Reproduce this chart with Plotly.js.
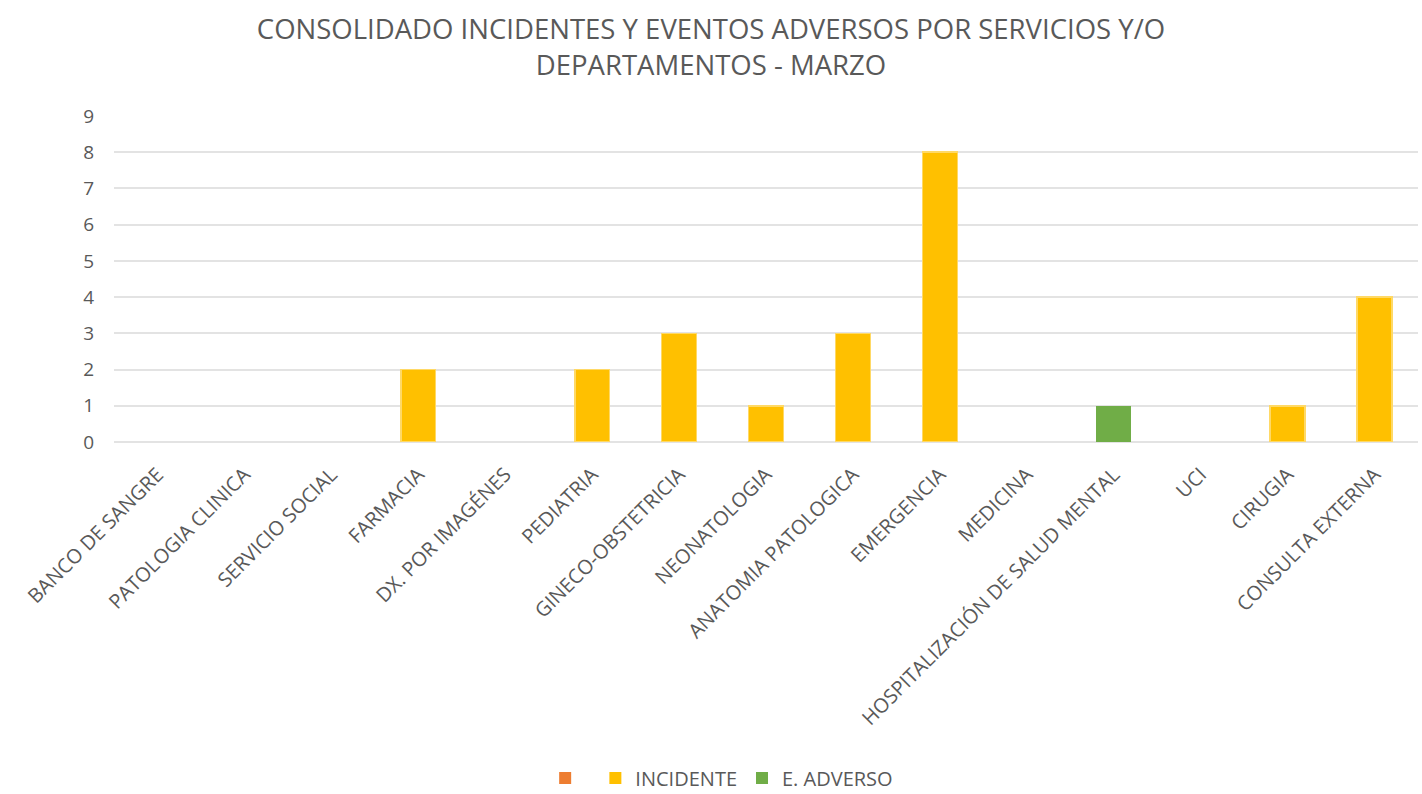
<!DOCTYPE html>
<html>
<head>
<meta charset="utf-8">
<script src="https://cdn.plot.ly/plotly-3.0.1.min.js"></script>
<style>
  body { margin: 0; background: #fff; }
  #grafico { width: 1422px; height: 794px; }
</style>
</head>
<body>
<div id="grafico"></div>
<script>
const servicios = [
  'BANCO DE SANGRE', 'PATOLOGIA CLINICA', 'SERVICIO SOCIAL', 'FARMACIA',
  'DX. POR IMAGÉNES', 'PEDIATRIA', 'GINECO-OBSTETRICIA', 'NEONATOLOGIA',
  'ANATOMIA PATOLOGICA', 'EMERGENCIA', 'MEDICINA', 'HOSPITALIZACIÓN DE SALUD MENTAL',
  'UCI', 'CIRUGIA', 'CONSULTA EXTERNA'
];
const sinNombre = [0, 0, 0, 0, 0, 0, 0, 0, 0, 0, 0, 0, 0, 0, 0];
const incidente = [0, 0, 0, 2, 0, 2, 3, 1, 3, 8, 0, 0, 0, 1, 4];
const eAdverso  = [0, 0, 0, 0, 0, 0, 0, 0, 0, 0, 0, 1, 0, 0, 0];

const fuente = "'Open Sans', sans-serif";

const serie0 = {
  type: 'bar',
  name: ' ',
  x: servicios,
  y: sinNombre,
  marker: { color: '#ED7D31' },
  width: 0.4
};

// borde claro solo en barras con valor
const serieInc = {
  type: 'bar',
  name: 'INCIDENTE',
  x: servicios,
  y: incidente,
  marker: {
    color: '#FFC000',
    line: { color: '#FFD966', width: incidente.map(v => v ? 1.5 : 0) }
  },
  width: 0.4
};

const serieAdv = {
  type: 'bar',
  name: 'E. ADVERSO',
  x: servicios,
  y: eAdverso,
  marker: { color: '#70AD47' },
  width: 0.4
};

const layout = {
  barmode: 'stack',
  width: 1422,
  height: 794,
  margin: { l: 114, r: 4, t: 116, b: 352 },
  paper_bgcolor: '#fff',
  plot_bgcolor: '#fff',
  font: { family: fuente, color: '#595959', size: 19 },
  title: {
    text: 'CONSOLIDADO INCIDENTES Y EVENTOS ADVERSOS POR SERVICIOS Y/O<br>DEPARTAMENTOS - MARZO',
    font: { family: fuente, size: 27.5, color: '#595959' },
    x: 0.5,
    xref: 'container',
    yref: 'container',
    y: 0.951,
    yanchor: 'middle'
  },
  xaxis: {
    tickangle: -45,
    tickfont: { size: 20, color: '#595959' },
    showgrid: false,
    showline: false,
    ticks: '',
    ticklabelstandoff: 16,
    automargin: false
  },
  yaxis: {
    range: [0, 9],
    dtick: 1,
    gridcolor: '#E3E3E3',
    gridwidth: 1.5,
    zeroline: true,
    zerolinecolor: '#E3E3E3',
    zerolinewidth: 1.5,
    tickfont: { size: 19, color: '#595959' },
    ticklabelstandoff: 19,
    automargin: false
  },
  legend: {
    orientation: 'h',
    xref: 'paper',
    x: 0.466,
    xanchor: 'center',
    yref: 'container',
    y: 0.02,
    yanchor: 'middle',
    font: { size: 20, color: '#595959' },
    itemwidth: 30,
    traceorder: 'normal'
  },
  showlegend: true
};

Plotly.newPlot('grafico', [serie0, serieInc, serieAdv], layout, { displayModeBar: false });
</script>
</body>
</html>
